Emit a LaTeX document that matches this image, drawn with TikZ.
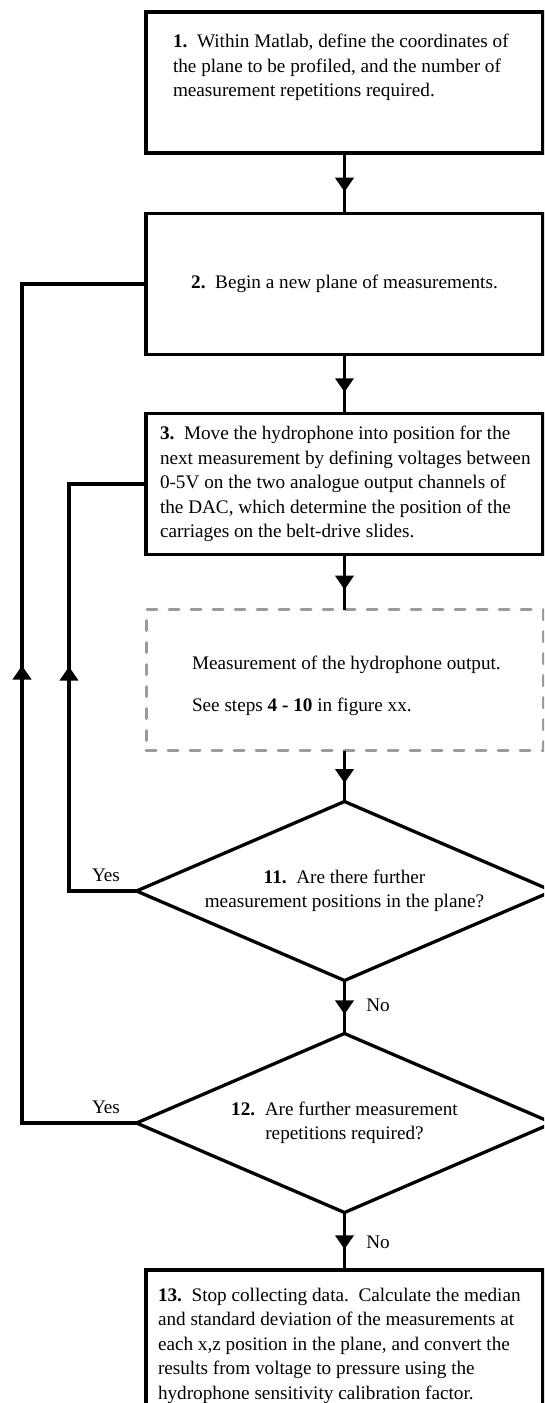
\documentclass[tikz,border=0pt]{standalone}
\usepackage{fontspec}
\setmainfont{Liberation Serif}
\usetikzlibrary{arrows.meta,shapes.geometric,decorations.markings}
\definecolor{dashgray}{RGB}{155,155,155}
\tikzset{
  x=1pt, y=-1pt,
  every node/.style={font=\fontsize{19.2}{24.5}\selectfont},
  box/.style={draw, rectangle, line width=3.5pt, inner sep=0pt, outer sep=0pt,
    minimum width=397pt, minimum height=141pt},
  dbox/.style={draw=dashgray, rectangle, line width=3pt, dash pattern=on 10pt off 12pt,
    line cap=round, inner sep=0pt, outer sep=0pt, minimum width=397pt, minimum height=141pt},
  decision/.style={draw, diamond, aspect=2.324, line width=3.3pt, inner sep=0pt, outer sep=0pt,
    minimum width=416pt, minimum height=179pt, align=center},
  txt/.style={inner sep=0pt, outer sep=0pt, align=left, anchor=north west},
  lbl/.style={inner sep=0pt},
  flow/.style={line width=3.5pt, postaction={decorate},
    decoration={markings, mark=at position 0.64 with {\arrow{Triangle[width=18pt,length=14pt]}}}},
  loopouter/.style={line width=3.5pt, postaction={decorate},
    decoration={markings, mark=at position 572pt with {\arrow{Triangle[width=18pt,length=14pt]}}}},
  loopinner/.style={line width=3.5pt, postaction={decorate},
    decoration={markings, mark=at position 292pt with {\arrow{Triangle[width=18pt,length=14pt]}}}},
}
\begin{document}
\begin{tikzpicture}
\useasboundingbox (0,0) rectangle (544,1403);
\clip (0,0) rectangle (544,1403);
\fill[white] (0,0) rectangle (544,1403);

% boxes
\node[box] (b1) at (344.5,82.5) {};
\node[txt] (t1) at (173,34) {\textbf{1.}\enspace Within Matlab, define the coordinates of\\the plane to be profiled, and the number of\\measurement repetitions required.};

\node[box] (b2) at (344.5,284) {\textbf{2.}\enspace Begin a new plane of measurements.};

\node[box] (b3) at (344.5,484) {};
\node[txt] (t3) at (160,426) {\textbf{3.}\enspace Move the hydrophone into position for the\\next measurement by defining voltages between\\0-5V on the two analogue output channels of\\the DAC, which determine the position of the\\carriages on the belt-drive slides.};

\node[dbox] (m) at (344.5,680) {};
\node[txt] (tm) at (192,656) {Measurement of the hydrophone output.\\[17pt]See steps \textbf{4 - 10} in figure xx.};

\node[decision] (d1) at (344.5,891) {\textbf{11.}\enspace Are there further\\measurement positions in the plane?};
\node[decision] (d2) at (344.5,1123) {\textbf{12.}\enspace Are further measurement\\repetitions required?};

\node[box, minimum height=180pt] (b13) at (344.5,1360) {};
\node[txt] (t13) at (158,1288) {\textbf{13.}\enspace Stop collecting data.\enspace Calculate the median\\and standard deviation of the measurements at\\each x,z position in the plane, and convert the\\results from voltage to pressure using the\\hydrophone sensitivity calibration factor.};

% loop columns
\coordinate (ocol) at (22,0);
\coordinate (icol) at (69,0);

% connectors
\draw[flow] (b1.south) -- (b2.north);
\draw[flow] (b2.south) -- (b3.north);
\draw[flow] (b3.south) -- (m.north);
\draw[flow] (m.south) -- (d1.north);
\draw[flow] (d1.south) -- (d2.north);
\draw[flow] (d2.south) -- (b13.north);

\draw[loopinner] (d1.west) -- (d1.west -| icol) -- (icol |- b3.west) -- (b3.west);
\draw[loopouter] (d2.west) -- (d2.west -| ocol) -- (ocol |- b2.west) -- (b2.west);

% labels
\node[lbl] (y1) at (106,875) {Yes};
\node[lbl] (y2) at (106,1107) {Yes};
\node[lbl] (n1) at (378,1005) {No};
\node[lbl] (n2) at (378,1242) {No};
\end{tikzpicture}
\end{document}
